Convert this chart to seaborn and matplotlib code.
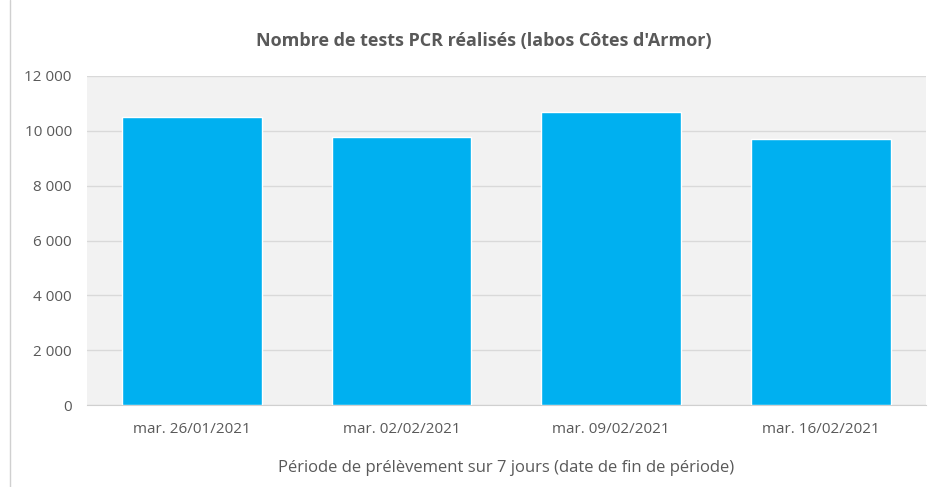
import pandas as pd
import seaborn as sns
import matplotlib.pyplot as plt
from matplotlib.ticker import FuncFormatter, MultipleLocator
from matplotlib.lines import Line2D

periodes = ["mar. 26/01/2021", "mar. 02/02/2021", "mar. 09/02/2021", "mar. 16/02/2021"]
tests_pcr = [10520, 9790, 10690, 9700]

df = pd.DataFrame({"periode": periodes, "tests": tests_pcr})

sns.set_style("white")
plt.rcParams["font.family"] = ["Open Sans", "DejaVu Sans"]
txt = "#595959"

fig = plt.figure(figsize=(9.4, 4.87), dpi=100)
ax = fig.add_axes([0.0926, 0.168, 0.892, 0.676])
ax.set_facecolor("#f2f2f2")

sns.barplot(data=df, x="periode", y="tests", color="#00b0f0", width=0.667,
            saturation=1, ax=ax, zorder=3)

ax.set_ylim(0, 12000)
ax.set_xlim(-0.5, 3.5)
ax.yaxis.set_major_locator(MultipleLocator(2000))
ax.yaxis.set_major_formatter(FuncFormatter(lambda v, p: f"{int(v):,}".replace(",", " ")))
ax.grid(axis="y", color="#d9d9d9", linewidth=1, zorder=0)
for s in ["top", "right", "left"]:
    ax.spines[s].set_visible(False)
ax.spines["bottom"].set_color("#d0d0d0")
ax.tick_params(axis="y", length=0, labelsize=11, colors=txt, pad=11)
ax.tick_params(axis="x", length=0, labelsize=11, colors=txt, pad=12)

ax.set_ylabel("")
ax.set_xlabel("Période de prélèvement sur 7 jours (date de fin de période)",
              fontsize=12, color=txt, labelpad=17)
fig.text(0.515, 0.915, "Nombre de tests PCR réalisés (labos Côtes d'Armor)",
         ha="center", va="center", fontsize=13, fontweight="bold", color=txt)

fig.add_artist(Line2D([0.0106, 0.0106], [0, 1], transform=fig.transFigure,
                      color="#d0d0d0", linewidth=1))

plt.savefig("out.png")
